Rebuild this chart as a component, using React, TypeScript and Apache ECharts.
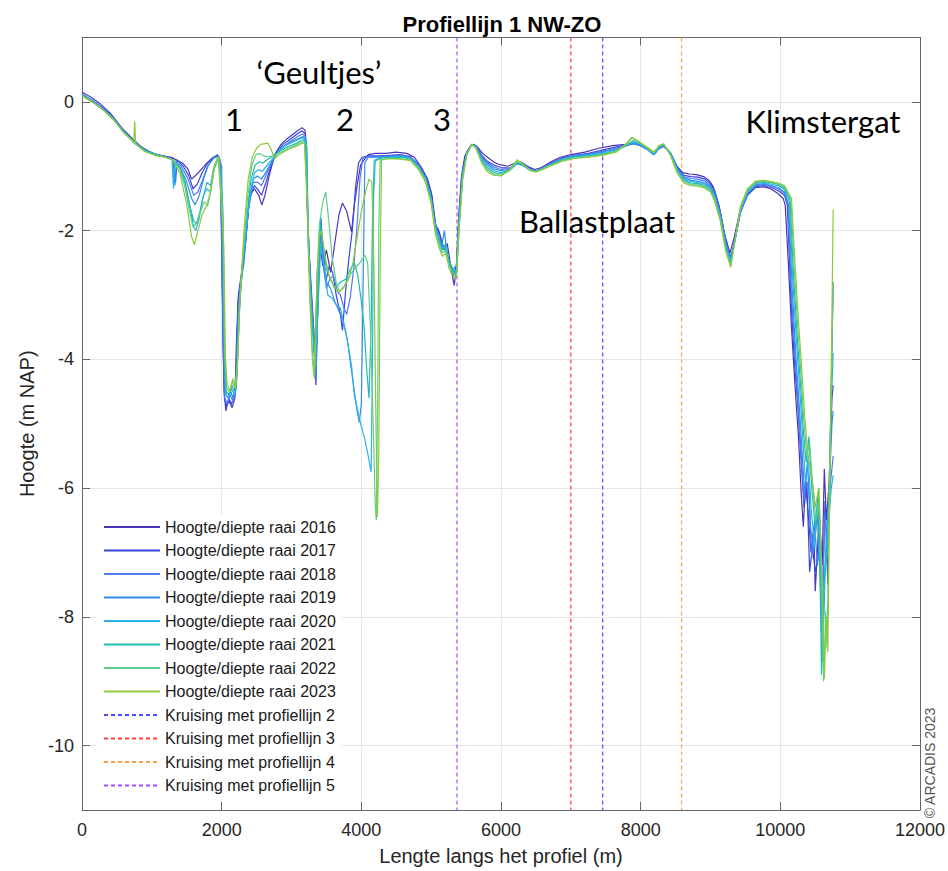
import React, { useEffect, useRef } from "react";
import * as echarts from "echarts";

const years = ["2016", "2017", "2018", "2019", "2020", "2021", "2022", "2023"];
const yearColors = ["#4b34b8", "#3a45e0", "#4f7cf0", "#2f8de8", "#2cb3e6", "#1fbcb0", "#5fcf8f", "#8dc83a"];

const raai2016 = [[0,0.15],[120,0.08],[250,-0.02],[400,-0.17],[550,-0.38],[700,-0.55],[850,-0.7],[1000,-0.8],[1150,-0.84],[1280,-0.86],[1350,-0.9],[1450,-0.96],[1520,-1.05],[1570,-1.2],[1630,-1.14],[1700,-1.06],[1780,-0.96],[1860,-0.88],[1940,-0.82],[1975,-0.9],[2000,-2.0],[2020,-3.8],[2040,-4.6],[2070,-4.72],[2110,-4.65],[2150,-4.75],[2190,-4.6],[2215,-3.6],[2240,-3.0],[2280,-2.7],[2340,-2.2],[2400,-1.45],[2470,-1.35],[2530,-1.45],[2575,-1.6],[2620,-1.45],[2680,-1.15],[2760,-0.82],[2850,-0.66],[2950,-0.56],[3050,-0.48],[3150,-0.4],[3195,-0.44],[3215,-1.2],[3250,-2.3],[3300,-3.2],[3340,-3.9],[3370,-2.6],[3410,-2.25],[3450,-2.55],[3500,-2.3],[3560,-2.65],[3620,-2.2],[3680,-1.75],[3730,-1.57],[3790,-1.7],[3860,-2.02],[3900,-1.6],[3940,-1.3],[3990,-0.98],[4040,-0.9],[4100,-0.82],[4200,-0.8],[4350,-0.8],[4500,-0.78],[4650,-0.8],[4760,-0.86],[4850,-1.0],[4950,-1.2],[5010,-1.45],[5070,-1.95],[5120,-2.05],[5180,-2.3],[5230,-2.2],[5280,-2.55],[5330,-2.85],[5360,-2.6],[5390,-1.9],[5430,-1.2],[5480,-0.85],[5540,-0.72],[5600,-0.66],[5660,-0.7],[5740,-0.8],[5830,-0.88],[5920,-0.95],[6000,-0.98],[6100,-1.0],[6200,-0.95],[6280,-0.93],[6380,-1.0],[6480,-1.05],[6580,-1.02],[6700,-0.94],[6850,-0.86],[7000,-0.82],[7200,-0.78],[7400,-0.72],[7600,-0.68],[7780,-0.66],[7880,-0.64],[7980,-0.66],[8080,-0.72],[8180,-0.8],[8250,-0.72],[8320,-0.68],[8420,-0.78],[8520,-1.0],[8600,-1.1],[8700,-1.12],[8800,-1.13],[8900,-1.16],[8980,-1.22],[9040,-1.32],[9120,-1.6],[9200,-2.05],[9280,-2.35],[9340,-2.1],[9420,-1.7],[9520,-1.45],[9640,-1.33],[9760,-1.32],[9860,-1.35],[9960,-1.42],[10040,-1.5],[10070,-1.6],[10110,-2.4],[10160,-3.5],[10210,-4.4],[10260,-5.2],[10300,-6.1],[10330,-6.6],[10360,-5.9],[10400,-6.4],[10440,-7.0],[10480,-6.6],[10500,-7.6],[10530,-7.0],[10560,-6.4],[10600,-7.2],[10630,-5.7],[10660,-6.5],[10700,-5.9],[10740,-4.6],[10757,-4.4]];

const raai2017 = [[0,0.12],[150,0.02],[300,-0.1],[450,-0.24],[600,-0.45],[760,-0.63],[900,-0.74],[1050,-0.81],[1200,-0.85],[1300,-0.88],[1340,-1.25],[1360,-0.9],[1450,-1.0],[1530,-1.15],[1590,-1.35],[1650,-1.28],[1720,-1.1],[1800,-0.95],[1880,-0.86],[1950,-0.84],[1985,-1.2],[2010,-3.0],[2035,-4.5],[2060,-4.8],[2100,-4.6],[2140,-4.7],[2180,-4.55],[2210,-4.2],[2235,-3.1],[2270,-2.8],[2330,-2.3],[2400,-1.5],[2470,-1.3],[2530,-1.38],[2570,-1.45],[2620,-1.3],[2690,-1.05],[2780,-0.8],[2880,-0.66],[2980,-0.58],[3080,-0.5],[3150,-0.45],[3200,-0.5],[3225,-1.6],[3260,-2.6],[3310,-3.5],[3350,-4.4],[3380,-3.0],[3420,-1.8],[3450,-2.5],[3490,-2.8],[3540,-2.55],[3590,-2.65],[3640,-3.0],[3700,-3.3],[3730,-3.55],[3770,-3.0],[3820,-2.45],[3870,-2.0],[3920,-1.3],[3960,-0.95],[4010,-0.86],[4100,-0.84],[4250,-0.84],[4400,-0.83],[4550,-0.82],[4700,-0.85],[4800,-0.95],[4900,-1.12],[5000,-1.4],[5060,-1.9],[5110,-2.0],[5160,-2.2],[5220,-2.35],[5270,-2.5],[5320,-2.7],[5370,-2.5],[5400,-1.7],[5450,-1.05],[5510,-0.78],[5580,-0.66],[5640,-0.68],[5720,-0.82],[5800,-0.92],[5900,-0.98],[6000,-1.02],[6120,-1.03],[6220,-0.96],[6300,-0.96],[6400,-1.02],[6500,-1.07],[6600,-1.03],[6720,-0.95],[6880,-0.87],[7050,-0.83],[7250,-0.8],[7450,-0.75],[7650,-0.7],[7800,-0.67],[7900,-0.65],[8000,-0.68],[8100,-0.74],[8190,-0.82],[8260,-0.73],[8330,-0.69],[8430,-0.8],[8530,-1.03],[8620,-1.14],[8720,-1.16],[8820,-1.17],[8920,-1.2],[9000,-1.27],[9060,-1.38],[9140,-1.7],[9220,-2.15],[9290,-2.42],[9350,-2.15],[9430,-1.72],[9530,-1.45],[9650,-1.32],[9770,-1.3],[9870,-1.33],[9970,-1.38],[10060,-1.45],[10100,-1.6],[10150,-3.0],[10200,-4.0],[10250,-4.7],[10300,-5.6],[10340,-6.3],[10380,-5.9],[10420,-7.3],[10460,-6.9],[10500,-7.3],[10560,-7.0],[10600,-7.9],[10640,-6.2],[10680,-7.5],[10720,-5.0],[10757,-2.8]];

const raai2018 = [[0,0.1],[150,0.0],[300,-0.12],[450,-0.26],[600,-0.46],[760,-0.64],[900,-0.75],[1050,-0.82],[1200,-0.86],[1300,-0.89],[1420,-1.0],[1520,-1.2],[1600,-1.45],[1660,-1.4],[1730,-1.2],[1800,-1.0],[1880,-0.88],[1960,-0.84],[1995,-1.5],[2020,-3.5],[2045,-4.6],[2080,-4.7],[2120,-4.55],[2160,-4.65],[2200,-4.4],[2230,-3.4],[2260,-2.9],[2320,-2.5],[2380,-1.7],[2450,-1.25],[2520,-1.25],[2570,-1.3],[2620,-1.18],[2700,-0.98],[2800,-0.78],[2900,-0.68],[3000,-0.6],[3100,-0.53],[3160,-0.5],[3205,-0.55],[3230,-1.8],[3270,-2.8],[3320,-3.6],[3345,-4.2],[3375,-3.2],[3400,-2.0],[3440,-2.3],[3500,-2.9],[3550,-2.75],[3600,-2.7],[3660,-2.95],[3700,-3.0],[3750,-3.2],[3790,-3.3],[3840,-3.05],[3890,-2.6],[3940,-1.9],[3980,-1.2],[4020,-0.88],[4100,-0.85],[4250,-0.85],[4400,-0.84],[4550,-0.83],[4700,-0.86],[4800,-0.97],[4900,-1.14],[4990,-1.42],[5050,-1.85],[5100,-2.1],[5150,-2.2],[5200,-2.3],[5250,-2.45],[5310,-2.6],[5360,-2.55],[5400,-1.8],[5450,-1.1],[5510,-0.8],[5580,-0.67],[5640,-0.69],[5720,-0.84],[5800,-0.94],[5900,-1.01],[6000,-1.05],[6120,-1.04],[6220,-0.96],[6300,-0.97],[6400,-1.03],[6500,-1.08],[6600,-1.03],[6720,-0.96],[6880,-0.88],[7050,-0.84],[7250,-0.81],[7450,-0.77],[7650,-0.72],[7800,-0.68],[7900,-0.65],[8000,-0.68],[8100,-0.74],[8190,-0.82],[8260,-0.72],[8330,-0.68],[8430,-0.8],[8530,-1.04],[8620,-1.16],[8720,-1.19],[8820,-1.2],[8920,-1.23],[9000,-1.3],[9060,-1.42],[9140,-1.72],[9220,-2.18],[9290,-2.44],[9350,-2.15],[9430,-1.7],[9530,-1.43],[9650,-1.3],[9770,-1.28],[9870,-1.31],[9970,-1.35],[10060,-1.42],[10110,-1.6],[10160,-3.0],[10210,-3.9],[10260,-4.8],[10300,-5.5],[10340,-6.2],[10370,-5.9],[10410,-6.0],[10450,-7.1],[10490,-6.5],[10530,-7.2],[10570,-6.8],[10600,-7.8],[10640,-6.4],[10680,-7.0],[10720,-5.9],[10757,-5.5]];

const raai2019 = [[0,0.12],[140,0.03],[280,-0.08],[420,-0.22],[560,-0.4],[700,-0.57],[820,-0.68],[950,-0.77],[1100,-0.83],[1220,-0.86],[1300,-0.9],[1330,-1.3],[1350,-0.95],[1420,-1.05],[1500,-1.25],[1570,-1.5],[1620,-1.6],[1680,-1.45],[1740,-1.2],[1810,-0.98],[1880,-0.87],[1950,-0.84],[2000,-1.0],[2025,-3.0],[2050,-4.5],[2090,-4.6],[2130,-4.5],[2170,-4.62],[2210,-4.45],[2240,-3.5],[2270,-2.9],[2330,-2.3],[2390,-1.6],[2450,-1.2],[2510,-1.15],[2570,-1.2],[2630,-1.1],[2720,-0.92],[2820,-0.76],[2920,-0.67],[3020,-0.61],[3120,-0.56],[3170,-0.54],[3210,-0.6],[3240,-2.0],[3280,-3.0],[3320,-3.8],[3350,-4.3],[3380,-3.0],[3420,-1.8],[3460,-2.4],[3500,-2.8],[3560,-2.9],[3620,-3.1],[3680,-3.25],[3740,-3.4],[3800,-3.7],[3850,-4.1],[3900,-4.5],[3940,-4.8],[3970,-4.98],[4000,-4.7],[4030,-2.5],[4050,-0.95],[4100,-0.86],[4250,-0.86],[4400,-0.85],[4550,-0.84],[4700,-0.87],[4800,-0.98],[4900,-1.15],[4990,-1.45],[5050,-1.9],[5100,-2.05],[5150,-2.25],[5190,-2.0],[5230,-2.4],[5280,-2.55],[5320,-2.65],[5370,-2.6],[5400,-1.8],[5450,-1.1],[5510,-0.8],[5580,-0.67],[5640,-0.7],[5720,-0.86],[5800,-0.96],[5900,-1.04],[6000,-1.07],[6120,-1.05],[6230,-0.96],[6310,-0.98],[6410,-1.05],[6500,-1.08],[6600,-1.03],[6720,-0.96],[6880,-0.88],[7050,-0.84],[7250,-0.82],[7450,-0.78],[7650,-0.73],[7800,-0.68],[7900,-0.64],[8000,-0.68],[8100,-0.74],[8190,-0.82],[8260,-0.72],[8330,-0.67],[8430,-0.8],[8530,-1.05],[8620,-1.18],[8720,-1.22],[8820,-1.23],[8920,-1.26],[9000,-1.32],[9060,-1.45],[9140,-1.75],[9220,-2.2],[9290,-2.45],[9350,-2.15],[9430,-1.7],[9530,-1.42],[9650,-1.29],[9770,-1.27],[9870,-1.3],[9970,-1.33],[10060,-1.4],[10120,-1.6],[10170,-2.9],[10220,-3.9],[10270,-4.7],[10310,-5.4],[10350,-6.1],[10390,-5.6],[10430,-6.6],[10480,-7.0],[10530,-6.4],[10570,-7.4],[10610,-8.4],[10650,-7.0],[10700,-6.0],[10740,-5.0],[10757,-4.8]];

const raai2020 = [[0,0.1],[150,0.0],[300,-0.12],[450,-0.27],[600,-0.47],[760,-0.65],[900,-0.76],[1050,-0.82],[1200,-0.86],[1290,-0.9],[1310,-1.35],[1330,-0.92],[1400,-1.0],[1470,-1.2],[1540,-1.6],[1600,-1.95],[1630,-2.0],[1680,-1.8],[1730,-1.5],[1790,-1.25],[1840,-1.3],[1880,-1.05],[1950,-0.86],[2010,-1.5],[2035,-3.6],[2060,-4.55],[2100,-4.6],[2140,-4.45],[2180,-4.55],[2215,-4.3],[2250,-3.3],[2290,-2.6],[2350,-2.0],[2410,-1.4],[2470,-1.1],[2530,-1.05],[2580,-1.08],[2640,-1.0],[2730,-0.88],[2830,-0.74],[2930,-0.67],[3030,-0.62],[3130,-0.57],[3175,-0.56],[3215,-0.65],[3240,-2.2],[3280,-3.2],[3320,-3.8],[3345,-4.1],[3380,-3.2],[3420,-2.2],[3470,-2.6],[3520,-3.0],[3580,-3.05],[3640,-3.15],[3700,-3.2],[3760,-3.5],[3800,-3.7],[3860,-4.1],[3900,-4.55],[3950,-4.8],[3990,-5.0],[4040,-5.2],[4090,-5.45],[4140,-5.75],[4160,-4.0],[4175,-1.5],[4200,-0.9],[4300,-0.86],[4450,-0.86],[4600,-0.85],[4720,-0.88],[4820,-1.0],[4920,-1.18],[5000,-1.5],[5060,-1.95],[5110,-2.1],[5160,-2.3],[5210,-2.2],[5260,-2.5],[5310,-2.6],[5360,-2.65],[5400,-1.85],[5450,-1.15],[5510,-0.8],[5580,-0.67],[5640,-0.7],[5720,-0.88],[5800,-0.99],[5900,-1.07],[6000,-1.1],[6120,-1.06],[6230,-0.96],[6310,-0.99],[6410,-1.06],[6500,-1.08],[6600,-1.03],[6720,-0.97],[6880,-0.89],[7050,-0.85],[7250,-0.83],[7450,-0.8],[7650,-0.75],[7800,-0.68],[7900,-0.62],[8000,-0.66],[8100,-0.73],[8190,-0.81],[8260,-0.71],[8330,-0.67],[8430,-0.81],[8530,-1.07],[8620,-1.2],[8720,-1.24],[8820,-1.25],[8920,-1.28],[9000,-1.34],[9060,-1.47],[9140,-1.78],[9220,-2.25],[9290,-2.48],[9350,-2.15],[9430,-1.68],[9530,-1.4],[9650,-1.27],[9770,-1.25],[9870,-1.28],[9970,-1.3],[10060,-1.36],[10130,-1.55],[10180,-2.8],[10230,-3.7],[10280,-4.5],[10320,-5.2],[10360,-5.9],[10400,-5.5],[10440,-6.3],[10490,-6.9],[10540,-6.1],[10580,-7.6],[10600,-8.7],[10640,-7.2],[10690,-6.5],[10730,-6.0],[10757,-5.8]];

const raai2021 = [[0,0.1],[150,0.0],[300,-0.12],[450,-0.27],[600,-0.47],[760,-0.64],[900,-0.76],[1050,-0.82],[1200,-0.86],[1300,-0.9],[1400,-1.02],[1470,-1.25],[1540,-1.6],[1600,-1.85],[1640,-1.9],[1690,-1.7],[1740,-1.45],[1790,-1.35],[1840,-1.4],[1890,-1.05],[1960,-0.86],[2015,-1.6],[2040,-3.8],[2065,-4.5],[2105,-4.55],[2145,-4.4],[2185,-4.5],[2220,-4.2],[2255,-3.2],[2300,-2.5],[2360,-1.8],[2420,-1.2],[2480,-0.98],[2540,-0.93],[2590,-0.95],[2650,-0.9],[2740,-0.84],[2840,-0.76],[2940,-0.7],[3040,-0.66],[3140,-0.6],[3180,-0.59],[3220,-0.7],[3245,-2.4],[3300,-3.5],[3335,-4.0],[3370,-3.4],[3410,-1.9],[3450,-2.2],[3500,-2.6],[3560,-2.75],[3620,-2.9],[3700,-2.8],[3780,-2.75],[3840,-2.6],[3900,-2.5],[3950,-2.7],[4000,-3.1],[4040,-3.5],[4080,-4.2],[4110,-4.6],[4140,-3.5],[4160,-1.8],[4185,-0.92],[4300,-0.87],[4450,-0.87],[4600,-0.86],[4720,-0.9],[4820,-1.02],[4920,-1.2],[5000,-1.52],[5060,-1.98],[5110,-2.15],[5160,-2.3],[5210,-2.25],[5260,-2.5],[5310,-2.6],[5360,-2.7],[5400,-1.9],[5450,-1.15],[5510,-0.8],[5580,-0.66],[5640,-0.7],[5720,-0.9],[5800,-1.02],[5900,-1.1],[6000,-1.12],[6120,-1.07],[6230,-0.95],[6310,-0.98],[6410,-1.06],[6500,-1.08],[6600,-1.03],[6720,-0.97],[6880,-0.9],[7050,-0.86],[7250,-0.84],[7450,-0.81],[7650,-0.76],[7800,-0.67],[7900,-0.6],[8000,-0.65],[8100,-0.72],[8190,-0.8],[8260,-0.7],[8330,-0.66],[8430,-0.82],[8530,-1.09],[8620,-1.22],[8720,-1.26],[8820,-1.27],[8920,-1.3],[9000,-1.36],[9060,-1.5],[9140,-1.8],[9220,-2.28],[9290,-2.52],[9350,-2.15],[9430,-1.66],[9530,-1.38],[9650,-1.25],[9770,-1.24],[9870,-1.26],[9970,-1.28],[10060,-1.34],[10140,-1.52],[10190,-2.7],[10240,-3.6],[10290,-4.4],[10330,-5.1],[10370,-5.6],[10410,-5.2],[10450,-6.0],[10500,-6.6],[10550,-6.0],[10590,-8.9],[10630,-7.4],[10680,-6.8],[10720,-5.0],[10757,-3.9]];

const raai2022 = [[0,0.1],[150,0.0],[300,-0.12],[450,-0.27],[600,-0.48],[760,-0.65],[900,-0.77],[1050,-0.83],[1200,-0.86],[1300,-0.9],[1400,-1.05],[1470,-1.3],[1530,-1.65],[1590,-1.95],[1640,-1.88],[1700,-1.7],[1750,-1.55],[1800,-1.62],[1850,-1.35],[1900,-1.0],[1960,-0.86],[2020,-1.8],[2045,-3.9],[2070,-4.45],[2110,-4.5],[2150,-4.35],[2190,-4.45],[2225,-4.1],[2260,-3.1],[2310,-2.3],[2370,-1.5],[2430,-1.0],[2490,-0.82],[2550,-0.8],[2600,-0.84],[2660,-0.85],[2750,-0.84],[2850,-0.78],[2950,-0.72],[3050,-0.68],[3150,-0.62],[3185,-0.62],[3225,-1.5],[3260,-2.8],[3300,-3.9],[3330,-4.25],[3360,-3.0],[3400,-1.9],[3450,-1.55],[3490,-1.4],[3530,-1.8],[3580,-2.4],[3640,-2.8],[3690,-2.95],[3760,-2.85],[3830,-2.7],[3900,-2.6],[3980,-2.5],[4050,-2.38],[4090,-2.5],[4130,-3.5],[4170,-5.0],[4200,-6.3],[4215,-6.5],[4235,-4.5],[4250,-2.0],[4270,-0.9],[4400,-0.88],[4550,-0.88],[4700,-0.9],[4820,-1.03],[4920,-1.22],[5000,-1.55],[5060,-2.0],[5110,-2.2],[5160,-2.35],[5210,-2.3],[5260,-2.55],[5310,-2.65],[5360,-2.72],[5400,-1.95],[5450,-1.2],[5510,-0.82],[5580,-0.66],[5640,-0.71],[5720,-0.92],[5800,-1.05],[5900,-1.13],[6000,-1.14],[6120,-1.07],[6230,-0.93],[6310,-0.97],[6410,-1.06],[6500,-1.09],[6600,-1.04],[6720,-0.98],[6880,-0.91],[7050,-0.87],[7250,-0.85],[7450,-0.82],[7650,-0.77],[7800,-0.66],[7880,-0.56],[7950,-0.6],[8050,-0.68],[8190,-0.79],[8260,-0.69],[8330,-0.65],[8430,-0.83],[8530,-1.1],[8620,-1.24],[8720,-1.28],[8820,-1.29],[8920,-1.32],[9000,-1.38],[9060,-1.52],[9140,-1.82],[9220,-2.3],[9290,-2.55],[9350,-2.15],[9430,-1.64],[9530,-1.36],[9650,-1.24],[9770,-1.23],[9870,-1.25],[9970,-1.27],[10060,-1.32],[10150,-1.5],[10200,-2.6],[10250,-3.5],[10300,-4.3],[10340,-5.0],[10380,-5.5],[10420,-5.3],[10460,-5.9],[10510,-6.5],[10560,-6.2],[10600,-7.8],[10620,-9.0],[10650,-7.9],[10670,-8.5],[10710,-5.5],[10757,-2.8]];

const raai2023 = [[0,0.1],[150,0.0],[300,-0.12],[450,-0.27],[600,-0.48],[700,-0.58],[740,-0.63],[755,-0.3],[768,-0.64],[900,-0.77],[1050,-0.83],[1200,-0.86],[1300,-0.9],[1400,-1.1],[1500,-1.6],[1570,-2.1],[1610,-2.22],[1660,-2.0],[1720,-1.75],[1790,-1.6],[1840,-1.4],[1890,-1.0],[1950,-0.85],[2030,-2.2],[2055,-4.0],[2080,-4.4],[2120,-4.5],[2160,-4.3],[2200,-4.45],[2230,-4.0],[2265,-3.0],[2320,-2.0],[2380,-1.2],[2440,-0.85],[2500,-0.72],[2560,-0.66],[2660,-0.64],[2700,-0.72],[2760,-0.88],[2850,-0.8],[2950,-0.74],[3050,-0.7],[3160,-0.64],[3190,-0.65],[3230,-1.8],[3260,-3.0],[3300,-4.0],[3325,-4.3],[3350,-3.3],[3390,-2.1],[3430,-2.0],[3480,-2.4],[3540,-2.7],[3600,-2.85],[3670,-2.95],[3740,-2.9],[3820,-2.75],[3880,-2.5],[3940,-2.1],[4000,-1.7],[4060,-1.4],[4110,-1.2],[4150,-1.25],[4180,-2.5],[4210,-5.0],[4230,-6.45],[4250,-5.5],[4270,-2.5],[4290,-0.9],[4400,-0.88],[4550,-0.89],[4700,-0.91],[4820,-1.05],[4920,-1.25],[5000,-1.58],[5060,-2.05],[5110,-2.25],[5160,-2.4],[5210,-2.35],[5260,-2.6],[5310,-2.7],[5360,-2.75],[5400,-2.0],[5450,-1.22],[5510,-0.82],[5580,-0.66],[5640,-0.72],[5720,-0.94],[5800,-1.08],[5900,-1.14],[6000,-1.15],[6120,-1.06],[6230,-0.9],[6310,-0.96],[6410,-1.06],[6500,-1.09],[6600,-1.05],[6720,-0.99],[6880,-0.92],[7050,-0.88],[7250,-0.86],[7450,-0.83],[7650,-0.78],[7800,-0.64],[7870,-0.55],[7950,-0.6],[8050,-0.67],[8190,-0.78],[8260,-0.68],[8330,-0.65],[8430,-0.84],[8530,-1.12],[8620,-1.26],[8720,-1.3],[8820,-1.31],[8920,-1.34],[9000,-1.4],[9060,-1.54],[9140,-1.85],[9220,-2.33],[9290,-2.57],[9350,-2.15],[9430,-1.62],[9530,-1.35],[9650,-1.23],[9770,-1.22],[9870,-1.24],[9970,-1.26],[10060,-1.3],[10160,-1.5],[10210,-2.5],[10260,-3.4],[10310,-4.2],[10350,-4.9],[10390,-5.4],[10410,-5.6],[10450,-5.8],[10500,-6.3],[10550,-6.0],[10600,-7.5],[10630,-8.96],[10660,-8.0],[10680,-8.55],[10720,-5.0],[10757,-1.67]];

const raaiData = [raai2016, raai2017, raai2018, raai2019, raai2020, raai2021, raai2022, raai2023];

const kruisingNames = ["Kruising met profiellijn 2", "Kruising met profiellijn 3", "Kruising met profiellijn 4", "Kruising met profiellijn 5"];
const kruisingX = [7457, 7000, 8586, 5370];
const kruisingColors = ["#4a4aff", "#ff3b3b", "#ffa245", "#a64dff"];

const xTicks = { min: 0, max: 12000, interval: 2000 };
const yRange = { min: -11, max: 1 };

const annotations = [
  { text: "\u2018Geultjes\u2019", x: 319, y: 72 },
  { text: "1", x: 234, y: 119 },
  { text: "2", x: 345, y: 119 },
  { text: "3", x: 442, y: 119 },
  { text: "Klimstergat", x: 823, y: 121 },
  { text: "Ballastplaat", x: 597, y: 221 },
];

const FONT = "'Liberation Sans', Arial, sans-serif";

export default function App() {
  const ref = useRef<HTMLDivElement>(null);
  useEffect(() => {
    document.body.style.margin = "0";
    const chart = echarts.init(ref.current!, null, { renderer: "svg" });
    const lineSeries: any[] = years.map((y, i) => ({
      name: "Hoogte/diepte raai " + y,
      type: "line",
      data: raaiData[i],
      showSymbol: false,
      symbol: "none",
      silent: true,
      lineStyle: { width: 1.2, color: yearColors[i] },
      itemStyle: { color: yearColors[i] },
      z: 3,
    }));
    const dashSeries: any[] = kruisingNames.map((n, i) => ({
      name: n,
      type: "line",
      data: [[kruisingX[i], yRange.max], [kruisingX[i], yRange.min]],
      showSymbol: false,
      symbol: "none",
      silent: true,
      lineStyle: { width: 1.2, color: kruisingColors[i], type: [4, 3] },
      itemStyle: { color: kruisingColors[i] },
      z: 2,
    }));
    const axisColor = "#666";
    const option: any = {
      animation: false,
      backgroundColor: "#fff",
      textStyle: { fontFamily: FONT },
      grid: { left: 82, right: 26, top: 37.5, bottom: 59.5, containLabel: false },
      legend: {
        orient: "vertical",
        left: 97,
        top: 515,
        itemWidth: 56,
        itemHeight: 14,
        itemGap: 7.5,
        padding: [4, 6, 4, 6],
        backgroundColor: "#fff",
        itemStyle: { opacity: 0 },
        textStyle: { fontFamily: FONT, fontSize: 16, color: "#1a1a1a" },
        data: [...years.map((y) => "Hoogte/diepte raai " + y), ...kruisingNames],
      },
      xAxis: [
        {
          type: "value",
          min: xTicks.min,
          max: xTicks.max,
          interval: xTicks.interval,
          position: "bottom",
          name: "Lengte langs het profiel (m)",
          nameLocation: "middle",
          nameGap: 36,
          nameTextStyle: { fontFamily: FONT, fontSize: 20, color: "#262626" },
          axisLine: { show: true, onZero: false, lineStyle: { color: axisColor } },
          axisTick: { show: true, inside: true, length: 8, lineStyle: { color: axisColor } },
          axisLabel: { fontFamily: FONT, fontSize: 18, color: "#262626", margin: 11, formatter: (v: number) => String(v) },
          splitLine: { show: true, lineStyle: { color: "#e6e6e6", width: 1 } },
        },
        {
          type: "value",
          min: xTicks.min,
          max: xTicks.max,
          interval: xTicks.interval,
          position: "top",
          axisLine: { show: true, onZero: false, lineStyle: { color: axisColor } },
          axisTick: { show: true, inside: true, length: 8, lineStyle: { color: axisColor } },
          axisLabel: { show: false },
          splitLine: { show: false },
        },
      ],
      yAxis: [
        {
          type: "value",
          min: yRange.min,
          max: yRange.max,
          splitNumber: 6,
          position: "left",
          name: "Hoogte (m NAP)",
          nameLocation: "middle",
          nameGap: 42,
          nameTextStyle: { fontFamily: FONT, fontSize: 20, color: "#262626" },
          axisLine: { show: true, onZero: false, lineStyle: { color: axisColor } },
          axisTick: { show: true, inside: true, length: 8, lineStyle: { color: axisColor } },
          axisLabel: { fontFamily: FONT, fontSize: 18, color: "#262626", margin: 8, showMinLabel: false, showMaxLabel: false, formatter: (v: number) => String(v) },
          splitLine: { show: true, lineStyle: { color: "#e6e6e6", width: 1 } },
        },
        {
          type: "value",
          min: yRange.min,
          max: yRange.max,
          splitNumber: 6,
          position: "right",
          axisLine: { show: true, onZero: false, lineStyle: { color: axisColor } },
          axisTick: { show: true, inside: true, length: 8, lineStyle: { color: axisColor } },
          axisLabel: { show: false },
          splitLine: { show: false },
        },
      ],
      graphic: [
        {
          type: "text",
          x: 502,
          y: 24,
          silent: true,
          style: {
            text: "Profiellijn 1 NW-ZO",
            fontFamily: FONT,
            fontSize: 22,
            fontWeight: "bold",
            fill: "#000",
            textAlign: "center",
            textVerticalAlign: "middle",
          },
        },
        ...annotations.map((a) => ({
          type: "text",
          x: a.x,
          y: a.y,
          z: 10,
          silent: true,
          style: {
            text: a.text,
            fontFamily: "Lato, 'Open Sans', sans-serif",
            fontSize: 31,
            fill: "#000",
            textAlign: "center",
            textVerticalAlign: "middle",
          },
        })),
        {
          type: "text",
          x: 930,
          y: 763,
          rotation: Math.PI / 2,
          silent: true,
          style: {
            text: "\u00a9 ARCADIS 2023",
            fontFamily: FONT,
            fontSize: 14,
            fill: "#555",
            textAlign: "center",
            textVerticalAlign: "middle",
          },
        },
      ],
      series: [...lineSeries, ...dashSeries],
    };
    chart.setOption(option);
    return () => chart.dispose();
  }, []);
  return <div ref={ref} style={{ width: 948, height: 871 }} />;
}
